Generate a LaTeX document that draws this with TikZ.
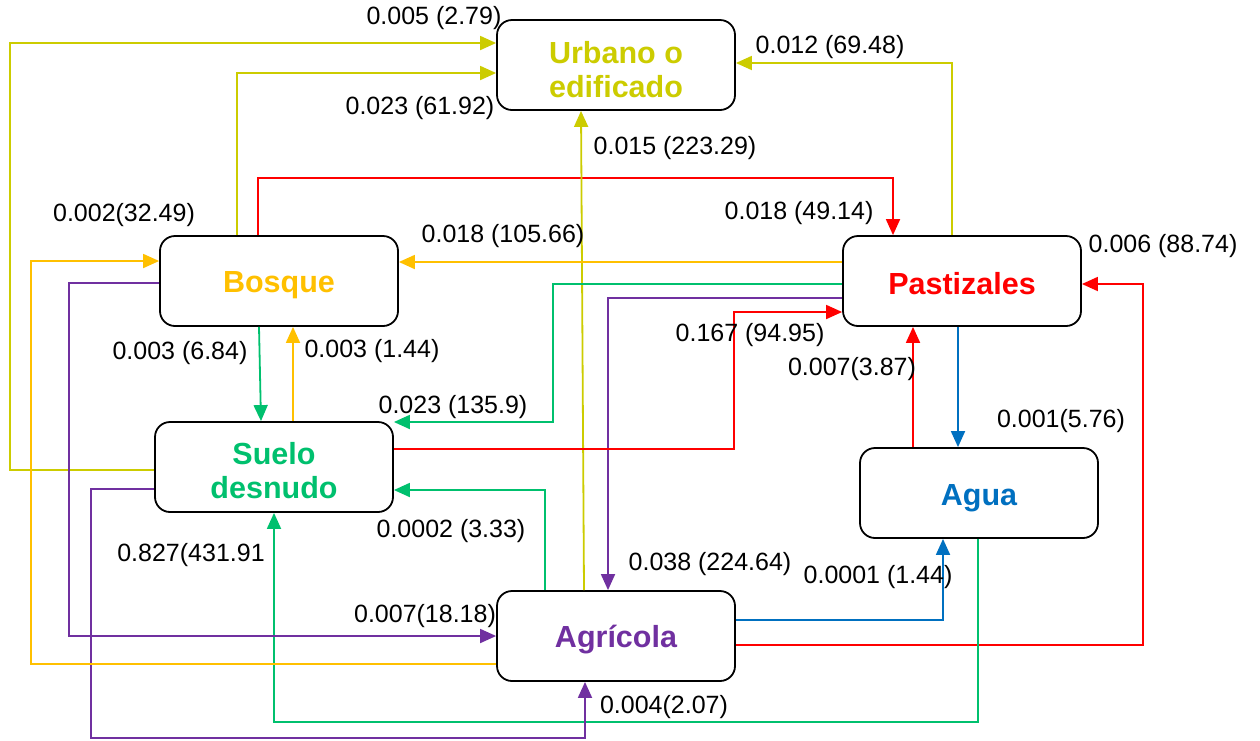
\documentclass[tikz,border=0pt]{standalone}
\usepackage{fontspec}
\setmainfont{Liberation Sans}
\usetikzlibrary{arrows.meta,calc}
\definecolor{cyel}{HTML}{CCCC00}
\definecolor{corg}{HTML}{FFC000}
\definecolor{cred}{HTML}{FF0000}
\definecolor{cgrn}{HTML}{00C06E}
\definecolor{cblu}{HTML}{0070C0}
\definecolor{cpur}{HTML}{7030A0}
\tikzset{
  box/.style={draw=black,line width=1.8pt,rounded corners=15pt,fill=white,
    minimum width=238pt,minimum height=90pt,inner sep=0pt},
  boxtext/.style={align=center,inner sep=0pt,
    font=\fontsize{30.5}{34}\selectfont\bfseries},
  lab/.style={font=\fontsize{25}{28}\selectfont,inner sep=0pt,text=black},
  conn/.style={line width=1.8pt,-{Triangle[length=16pt,width=14pt]}},
}
\begin{document}
\begin{tikzpicture}[x=1pt,y=-1pt]
\useasboundingbox (0,0) rectangle (1260,740);
% boxes
\node[box] (urb) at (616,65) {};
\node[box] (bos) at (279,281) {};
\node[box] (pas) at (962,281) {};
\node[box] (sue) at (274,467) {};
\node[box] (agu) at (979,493) {};
\node[box] (agr) at (616,636) {};
\node[boxtext,text=cyel] (urbT) at ($(urb)+(0,5)$) {Urbano o\\edificado};
\node[boxtext,text=corg] (bosT) at ($(bos)+(0,4)$) {Bosque};
\node[boxtext,text=cred] (pasT) at ($(pas)+(0,3)$) {Pastizales};
\node[boxtext,text=cgrn] (sueT) at ($(sue)+(0,4)$) {Suelo\\desnudo};
\node[boxtext,text=cblu] (aguT) at ($(agu)+(0,5)$) {Agua};
\node[boxtext,text=cpur] (agrT) at ($(agr)+(0,4)$) {Agrícola};
% connectors
\draw[conn,cyel] ($(sue.west)+(0,3)$) -| (10,43) -- ($(urb.west)+(0,-22)$);
\draw[conn,cyel] ($(bos.north)+(-42,0)$) |- ($(urb.west)+(0,8)$);
\draw[conn,cred] ($(bos.north)+(-21,0)$) -- ++(0,-57) -| ($(pas.north)+(-69,0)$);
\draw[conn,cyel] ($(pas.north)+(-10,0)$) |- ($(urb.east)+(0,-2)$);
\draw[conn,cyel] ($(agr.north)+(-32,0)$) -- ($(urb.south)+(-35,0)$);
\draw[conn,corg] ($(pas.west)+(0,-19)$) -- ($(bos.east)+(0,-19)$);
\draw[conn,cgrn] ($(pas.west)+(0,3)$) -| ($(sue.east)+(159,-45)$) -- ($(sue.east)+(0,-45)$);
\draw[conn,cpur] ($(pas.west)+(0,17)$) -| ($(agr.north)+(-8,0)$);
\draw[conn,cred] ($(sue.east)+(0,-18)$) -| ($(pas.west)+(-108,31)$) -- ($(pas.west)+(0,31)$);
\draw[conn,cred] ($(agu.north)+(-66,0)$) -- ($(pas.south)+(-49,0)$);
\draw[conn,cblu] ($(pas.south)+(-4,0)$) -- ($(agu.north)+(-21,0)$);
\draw[conn,cred] ($(agr.east)+(0,9)$) -| ($(pas.east)+(61,3)$) -- ($(pas.east)+(0,3)$);
\draw[conn,cblu] ($(agr.east)+(0,-16)$) -| ($(agu.south)+(-36,0)$);
\draw[conn,cgrn] ($(agu.south)+(-1,0)$) -- ++(0,183) -| (sue.south);
\draw[conn,cpur] ($(sue.west)+(0,22)$) -| ($(agr.south)+(-525,56)$) -| ($(agr.south)+(-31,0)$);
\draw[conn,cpur] ($(bos.west)+(0,2)$) -| ($(agr.west)+(-427,0)$) -- (agr.west);
\draw[conn,corg] ($(agr.west)+(0,28)$) -| ($(bos.west)+(-128,-20)$) -- ($(bos.west)+(0,-20)$);
\draw[conn,cgrn] ($(bos.south)+(-20,0)$) -- ($(sue.north)+(-13,0)$);
\draw[conn,corg] ($(sue.north)+(19,0)$) -- ($(bos.south)+(14,0)$);
\draw[conn,cgrn] ($(agr.north)+(-71,0)$) |- ($(sue.east)+(0,23)$);
% labels
\node[lab] (l1) at (434,18) {0.005 (2.79)};
\node[lab] (l2) at (420,108) {0.023 (61.92)};
\node[lab] (l3) at (830,47) {0.012 (69.48)};
\node[lab] (l4) at (675,148) {0.015 (223.29)};
\node[lab] (l5) at (799,213) {0.018 (49.14)};
\node[lab] (l6) at (124,215) {0.002(32.49)};
\node[lab] (l7) at (503,236) {0.018 (105.66)};
\node[lab] (l8) at (1163,246) {0.006 (88.74)};
\node[lab] (l9) at (750,335) {0.167 (94.95)};
\node[lab] (l10) at (180,353) {0.003 (6.84)};
\node[lab] (l11) at (372,351) {0.003 (1.44)};
\node[lab] (l12) at (852,369) {0.007(3.87)};
\node[lab] (l13) at (453,407) {0.023 (135.9)};
\node[lab] (l14) at (1061,421) {0.001(5.76)};
\node[lab] (l15) at (451,531) {0.0002 (3.33)};
\node[lab] (l16) at (191,555) {0.827(431.91};
\node[lab] (l17) at (710,564) {0.038 (224.64)};
\node[lab] (l18) at (878,577) {0.0001 (1.44)};
\node[lab] (l19) at (425,616) {0.007(18.18)};
\node[lab] (l20) at (664,707) {0.004(2.07)};
\end{tikzpicture}
\end{document}
